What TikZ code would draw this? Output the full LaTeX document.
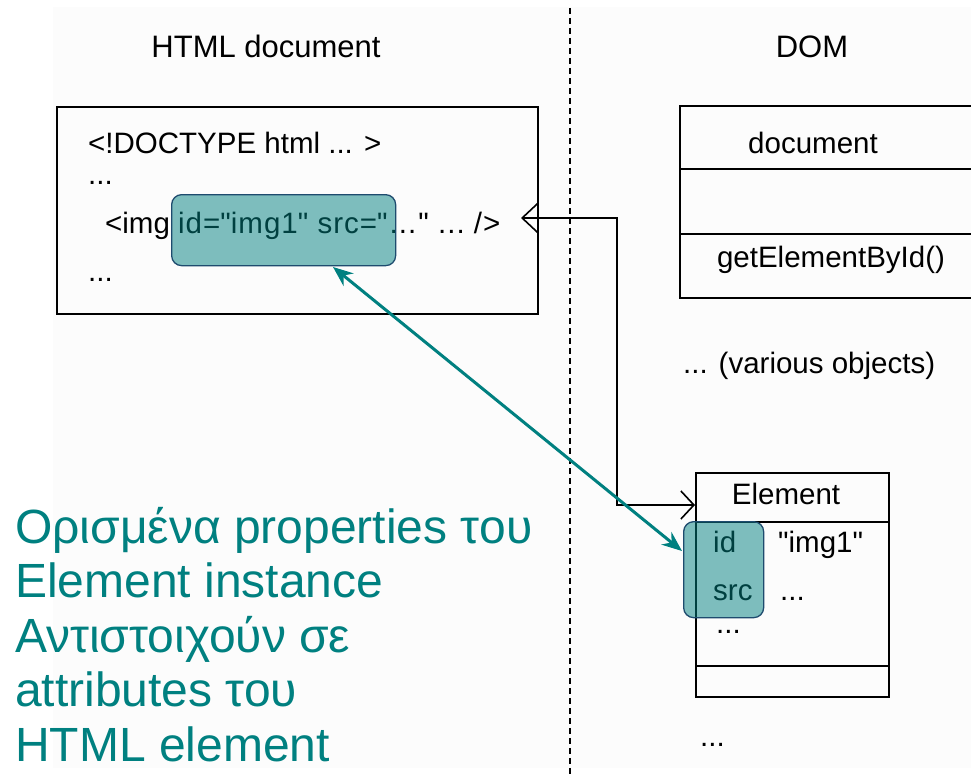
\documentclass[tikz,border=0pt]{standalone}
\usepackage{fontspec}
\setmainfont{Liberation Sans}
\newfontfamily\qfont{Liberation Sans}
\usetikzlibrary{arrows.meta}
\definecolor{tealc}{RGB}{0,128,128}
\definecolor{hlborder}{RGB}{30,75,110}
\definecolor{bgfaint}{RGB}{252,252,252}
\newcommand\qq{{\qfont\char"22\relax}}
\begin{document}
\begin{tikzpicture}[x=1pt,y=-1pt,
  lbl/.style={inner sep=0pt, font=\fontsize{29.5}{34}\selectfont},
  ttl/.style={inner sep=0pt, font=\fontsize{31}{36}\selectfont},
  big/.style={inner sep=0pt, text=tealc, font=\fontsize{48}{55}\selectfont},
  umlbox/.style={draw, line width=1.6pt},
  hl/.style={fill=tealc, fill opacity=0.5, draw=hlborder, line width=1.3pt, rounded corners=10pt},
  conn/.style={line width=1.6pt, {Straight Barb[length=16pt,width=30pt,line width=1.6pt]}-{Straight Barb[length=13pt,width=28pt,line width=1.6pt]}},
  link/.style={draw=tealc, line width=3pt, {Stealth[length=20pt,width=16pt]}-{Stealth[length=20pt,width=16pt]}},
  sep/.style={line width=1.6pt, dash pattern=on 6pt off 4pt}
]
\useasboundingbox (0,0) rectangle (971,776);
\fill[bgfaint] (53,7) rectangle (971,768);

% titles and divider
\node[ttl, anchor=base] (t1) at (266,57) {HTML document};
\node[ttl, anchor=base] (t2) at (812,57) {DOM};
\coordinate (s1) at (570,8);
\coordinate (s2) at (570,776);
\draw[sep] (s1) -- (s2);

% HTML document box
\node[umlbox, minimum width=481pt, minimum height=207pt, anchor=north west, inner sep=0pt] (htmlbox) at (56,106) {};
\node[lbl, anchor=base west] (h1) at (88,153) {<!DOCTYPE html ...\kern3pt\ >};
\node[lbl, anchor=base west] (h2) at (88,184) {...};
\node[lbl, anchor=base west] (h3) at (105,233) {<img \addfontfeature{LetterSpace=3.5}id=\qq img1\qq\ src=\qq\kern2pt...\kern2pt\qq\ ...\ />};
\node[lbl, anchor=base west] (h4) at (88,281) {...};

% document class box
\node[umlbox, minimum width=300pt, minimum height=192pt, anchor=north west, inner sep=0pt] (docbox) at (679,105) {};
\draw[line width=1.6pt] (679,169) -- (980,169);
\draw[line width=1.6pt] (679,234) -- (980,234);
\node[lbl, anchor=base] (d1) at (813,153) {document};
\node[lbl, anchor=base] (d2) at (831,267) {getElementById()};
\node[lbl, anchor=base west] (d3) at (683,373) {... (various objects)};

% Element class box
\node[umlbox, minimum width=193pt, minimum height=224pt, anchor=north west, inner sep=0pt] (elbox) at (695,472) {};
\draw[line width=1.6pt] (elbox.west |- 0,522) -- (elbox.east |- 0,522);
\draw[line width=1.6pt] (elbox.west |- 0,666) -- (elbox.east |- 0,666);
\node[lbl, anchor=base] (e0) at (786,504) {Element};
\node[lbl, anchor=base west] (e1) at (713,552) {id};
\node[lbl, anchor=base west] (e2) at (778,552) {\qq img1\qq};
\node[lbl, anchor=base west] (e3) at (713,600) {src};
\node[lbl, anchor=base west] (e4) at (780,600) {...};
\node[lbl, anchor=base west] (e5) at (716,633) {...};
\node[lbl, anchor=base west] (e6) at (700,746) {...};

% connector between img tag and Element
\coordinate (c1) at (521,218);
\coordinate (c2) at (617,218);
\coordinate (c3) at (617,505);
\coordinate (c4) at (elbox.west |- 0,505);
\draw[conn] (c1) -- (c2) -- (c3) -- (c4);

% highlights
\node[hl, minimum width=224pt, minimum height=71pt, anchor=north west, inner sep=0pt] (hl1) at (171,194) {};
\node[hl, minimum width=80pt, minimum height=96pt, anchor=north west, inner sep=0pt] (hl2) at (683,521) {};

% teal link
\coordinate (l1) at (333,267);
\coordinate (l2) at (682,551);
\draw[link] (l1) -- (l2);

% Greek caption
\node[big, anchor=base west] (g1) at (15,543) {Ορισμένα properties του};
\node[big, anchor=base west] (g2) at (15,597.5) {Element instance};
\node[big, anchor=base west] (g3) at (15,652) {Αντιστοιχούν σε};
\node[big, anchor=base west] (g4) at (15,706.5) {attributes του};
\node[big, anchor=base west] (g5) at (15,761) {HTML element};
\end{tikzpicture}
\end{document}
